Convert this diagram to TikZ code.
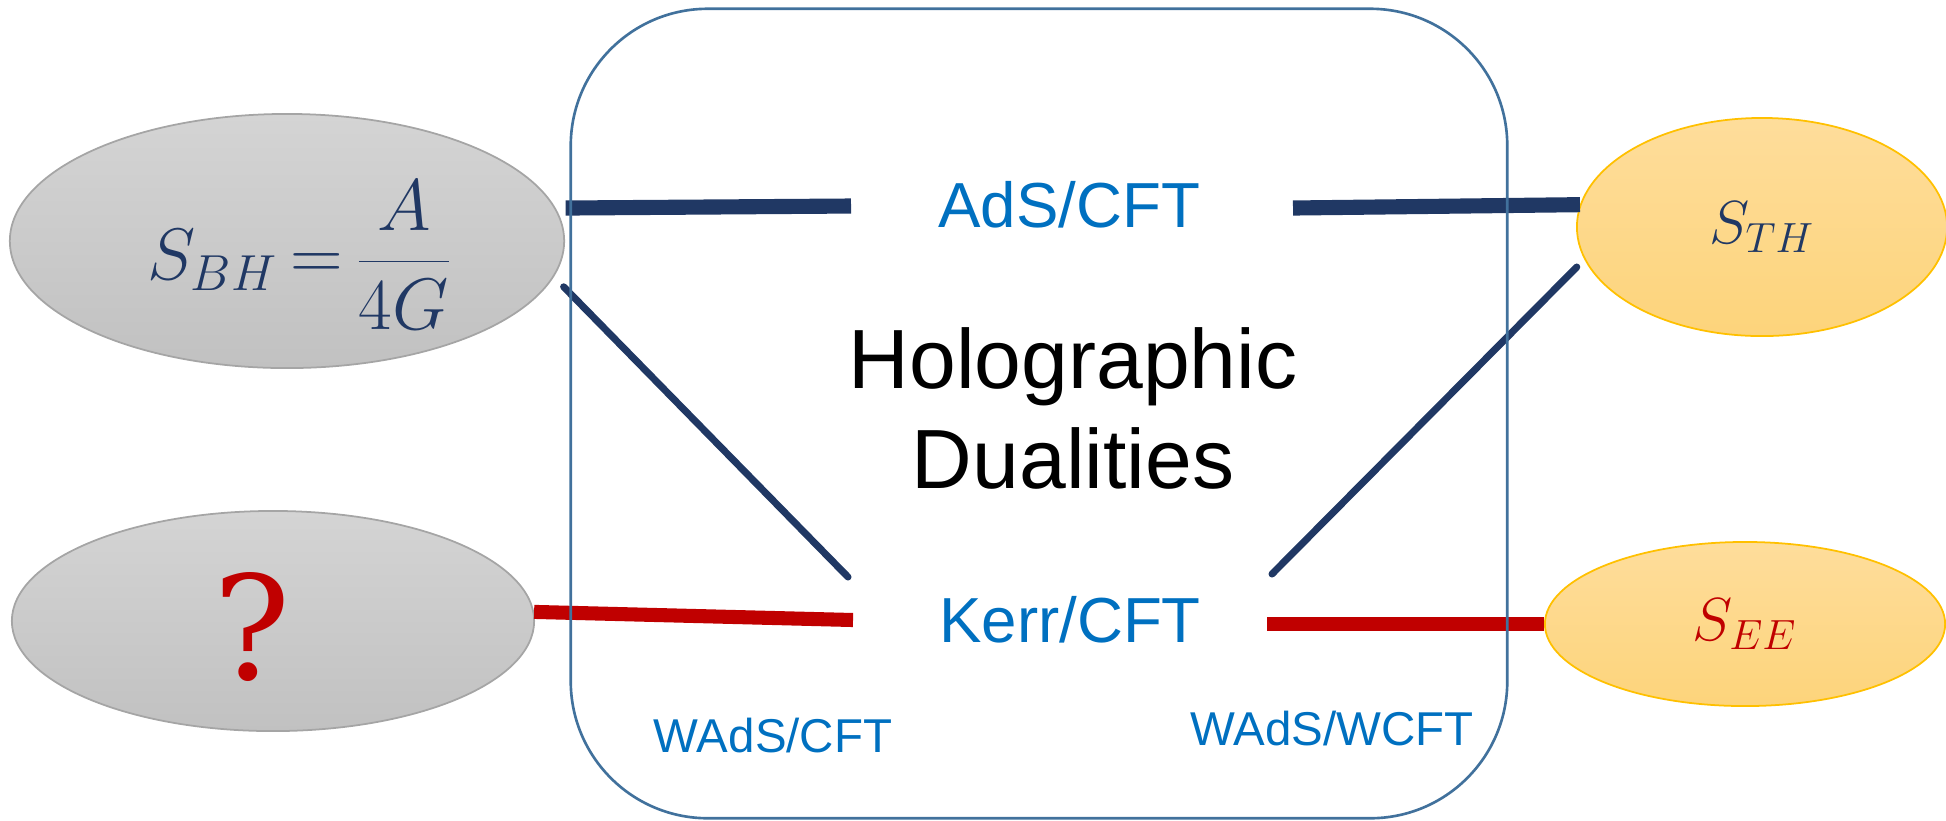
\documentclass[tikz,border=0pt]{standalone}
\usepackage{fontspec}
\newfontfamily\arialf{Liberation Sans}
\newfontfamily\qfont{DejaVu Serif}
\usetikzlibrary{shapes.geometric}
\definecolor{navy}{HTML}{203864}
\definecolor{tblue}{HTML}{0070C0}
\definecolor{dred}{HTML}{C00000}
\definecolor{boxblue}{HTML}{41719C}
\definecolor{gtop}{HTML}{D4D4D4}
\definecolor{gbot}{HTML}{C1C1C1}
\definecolor{gedge}{HTML}{A5A5A5}
\definecolor{ytop}{HTML}{FEDD9B}
\definecolor{ybot}{HTML}{FDD47B}
\definecolor{yedge}{HTML}{FFC000}
\begin{document}
\begin{tikzpicture}[x=0.01cm,y=-0.01cm,
  grayell/.style={ellipse, draw=gedge, line width=0.5pt, top color=gtop, bottom color=gbot, inner sep=0pt},
  yell/.style={ellipse, draw=yedge, line width=0.5pt, top color=ytop, bottom color=ybot, inner sep=0pt},
  bar/.style={draw=navy, line width=4.3pt, line cap=butt},
  diag/.style={draw=navy, line width=2pt, line cap=round},
  redbar/.style={draw=dred, line width=4pt, line cap=butt},
  bluetxt/.style={text=tblue, inner sep=0pt, anchor=base, font=\arialf\fontsize{18.1}{21}\selectfont},
  smalltxt/.style={text=tblue, inner sep=0pt, anchor=base, font=\arialf\fontsize{13.5}{16}\selectfont},
  holotxt/.style={text=black, inner sep=0pt, anchor=base, font=\arialf\fontsize{23.9}{28}\selectfont},
  frame/.style={draw=boxblue, line width=0.75pt, rounded corners=1.37cm, inner sep=0pt}]
\useasboundingbox (0,0) rectangle (1946,820);

% ellipses
\node[grayell, minimum width=5.54cm, minimum height=2.54cm] (bh) at (287,241) {};
\node[text=navy, inner sep=0pt] (bhtxt) at (300,255)
  {\fontsize{19.5}{24}\selectfont$\displaystyle S_{BH}\mkern-2mu=\mkern-2mu\frac{A}{4G}$};
\node[grayell, minimum width=5.22cm, minimum height=2.2cm] (qe) at (273,621) {};
\node[text=dred, inner sep=0pt, font=\qfont\fontsize{41}{46}\selectfont] (qm) at (252,627) {?};
\node[yell, minimum width=3.7cm, minimum height=2.18cm, text=navy] (th) at (1762,227)
  {\fontsize{17.9}{21}\selectfont$S_{TH}$};
\node[yell, minimum width=4.0cm, minimum height=1.64cm, text=dred] (ee) at (1745,624)
  {\fontsize{17.9}{21}\selectfont$S_{EE}$};

% texts
\node[bluetxt] (ads) at (1069,227) {AdS/CFT};
\node[bluetxt] (kerr) at (1070,642) {Kerr/CFT};
\node[holotxt] (holo1) at (1073,388) {Holographic};
\node[holotxt] (holo2) at (1073,488) {Dualities};
\node[smalltxt] (wads1) at (773,752) {WAdS/CFT};
\node[smalltxt] (wads2) at (1332,745) {WAdS/WCFT};

% free ends
\coordinate (c1) at (851,206);
\coordinate (c2) at (1293,208);
\coordinate (c3) at (848,577);
\coordinate (c4) at (1272,574);
\coordinate (c5) at (853,620);
\coordinate (c6) at (1267,624);

% connectors
\draw[bar] ([xshift=0.1cm]bh.7) -- (c1);
\draw[bar] (c2) -- (th.173);
\draw[diag] ([xshift=0.17cm]bh.-10) -- (c3);
\draw[diag] (c4) -- ([xshift=-0.12cm]th.193);
\draw[redbar] (qe.2) -- (c5);
\draw[redbar] (c6) -- (ee.west);

% frame
\node[frame, minimum width=9.36cm, minimum height=8.09cm] (box) at (1039,413.5) {};
\end{tikzpicture}
\end{document}
